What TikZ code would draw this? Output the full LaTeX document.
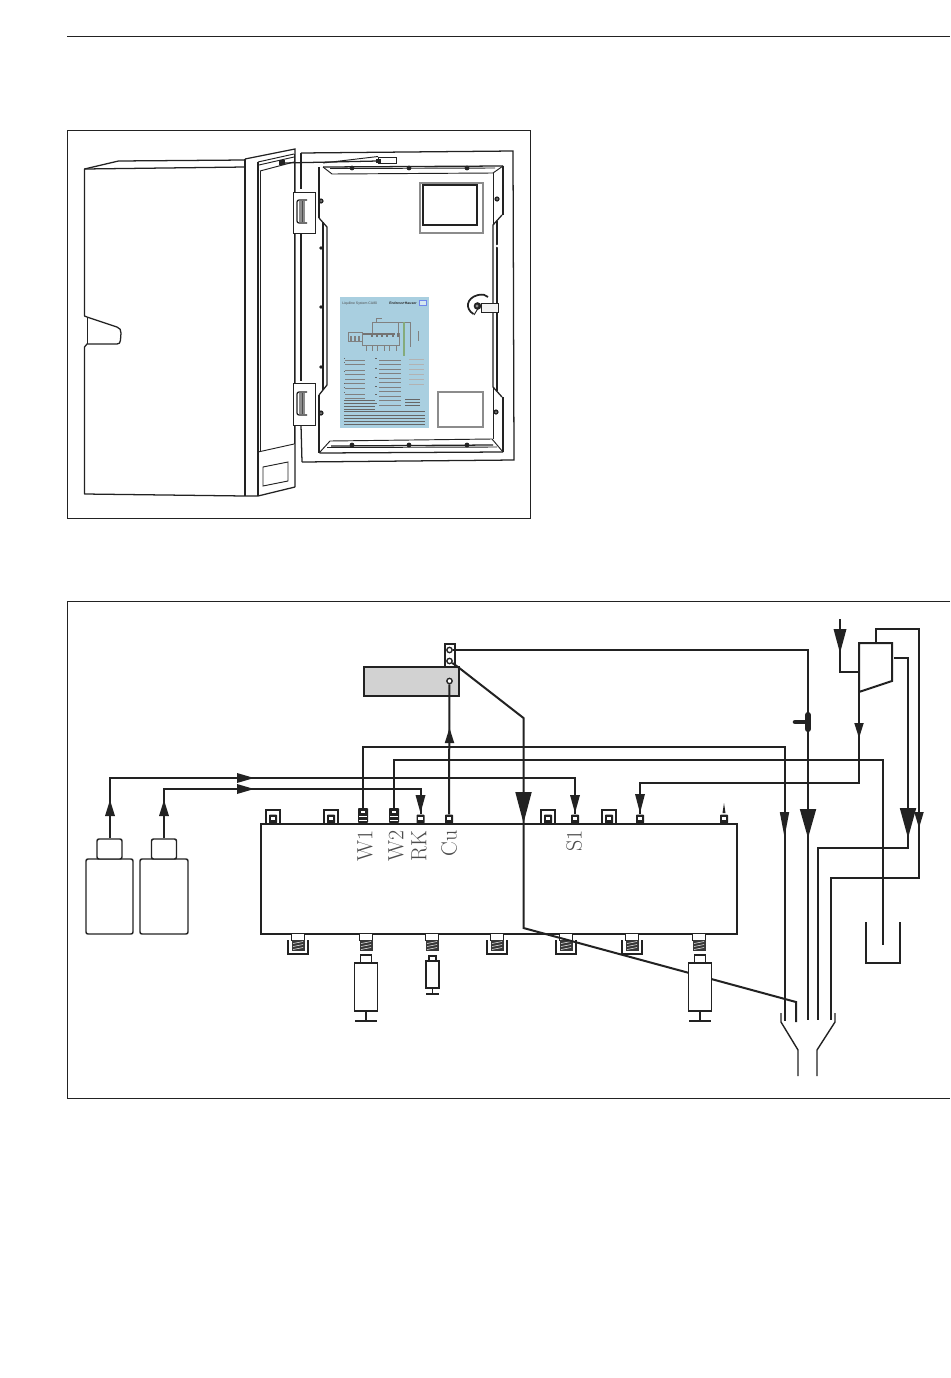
\documentclass[tikz,border=0pt]{standalone}
\usepackage{fontspec}
\setsansfont{Liberation Sans}
\definecolor{ink}{HTML}{222222}
\definecolor{plate}{HTML}{A9CFE0}
\definecolor{panelgrey}{HTML}{D2D2D2}
\tikzset{
  pipe/.style={line width=1.5pt,draw=ink,line join=miter},
  pipet/.style={line width=1.25pt,draw=ink},
  thin1/.style={line width=0.7pt,draw=ink},
  mid1/.style={line width=0.95pt,draw=ink},
  boxn/.style={draw=ink,line width=1.1pt,inner sep=0pt,fill=white,rectangle},
  bottle/.style={boxn,rounded corners=1.5pt},
  portS/.style={fill=ink,rectangle,rounded corners=0.6pt,inner sep=0pt,minimum width=6pt,minimum height=6.5pt},
  portL/.style={fill=ink,rectangle,rounded corners=0.6pt,inner sep=0pt,minimum width=7.5pt,minimum height=11pt},
  lab/.style={rotate=90,anchor=east,inner sep=0pt,text=black!70,font=\fontsize{16.5}{16.5}\selectfont},
  dot/.style={circle,draw=ink,fill=white,line width=1pt,inner sep=0pt,minimum size=4pt},
  txtl/.style={line width=0.45pt,draw=black!50},
}
\newcommand\tridn[4]{\fill[ink] ({#1-#4/2},#2) -- ({#1+#4/2},#2) -- (#1,#3) -- cycle;}
\newcommand\triup[4]{\fill[ink] ({#1-#4/2},#2) -- ({#1+#4/2},#2) -- (#1,#3) -- cycle;}
\newcommand\trirt[4]{\fill[ink] (#2,{#1-#4/2}) -- (#2,{#1+#4/2}) -- (#3,#1) -- cycle;}
\newcommand\botport[2]{%
  \node[boxn,minimum width=9.75pt,minimum height=5pt,line width=0.8pt] (#1a) at (#2,937) {};
  \fill[ink!90] ({#2-6.5},940) rectangle ({#2+6.5},951);
  \foreach \yy in {942.5,945.5,948.5} \draw[white,line width=0.35pt] ({#2-5},{\yy+1}) -- ({#2+5},{\yy-1});
}
\newcommand\botcup[1]{\draw[pipet] ({#1-10},940) -- ({#1-10},954) -- ({#1+10},954) -- ({#1+10},940);}
\newcommand\topsmall[2]{%
  \node[portS] (#1) at (#2,819) {};
  \fill[white] ({#2-2.2},816.5) rectangle ({#2+2.2},819.5);
}
\newcommand\toplarge[2]{%
  \node[portL] (#1) at (#2,815.5) {};
  \fill[white] ({#2-4},815.5) rectangle ({#2+4},817);
  \fill[white] ({#2-4},819.5) rectangle ({#2+4},821);
  \fill[white] ({#2-2},811) rectangle ({#2+2},813);
}
\newcommand\topcap[2]{%
  \topsmall{#1}{#2}
  \draw[pipet] ({#2-7},823) -- ({#2-7},810) -- ({#2+7},810) -- ({#2+7},823);
}
\newcommand\syrbig[2]{%
  \node[boxn,minimum width=8.5pt,minimum height=6pt] (#1n) at (#2,959) {};
  \node[boxn,minimum width=17.25pt,minimum height=36pt] (#1b) at (#2,987) {};
  \coordinate (#1f) at (#2,1021);
  \draw[pipet] (#1b.south) -- (#1f);
  \draw[pipet] ({#2-11},1021) -- ({#2+11},1021);
}
\newcommand\screw[2]{\fill[ink] (#1,#2) circle (2.6); \fill[black!45] (#1,#2) circle (1);}
\begin{document}
\begin{tikzpicture}[x=0.75pt,y=-0.75pt]
\useasboundingbox (0,0) rectangle (950,1378);
\fill[white] (0,0) rectangle (950,1378);
% header rule and frames
\draw[line width=0.7pt,draw=ink] (67,36) -- (950,36);
\draw[line width=0.8pt,draw=ink] (67.5,130.5) rectangle (530.5,518.5);
\draw[line width=0.8pt,draw=ink] (950,601.5) -- (67.5,601.5) -- (67.5,1098.5) -- (950,1098.5);

% ---------- cabinet housing ----------
\draw[mid1,line join=round] (245,160) -- (118.5,161) -- (84.5,169) -- (84.5,316) -- (87,317)
  -- (117,327) .. controls (120,328) and (121,330) .. (121,333) -- (120.5,340)
  .. controls (120.5,343) and (119,344) .. (117,344) -- (87,344) -- (84.5,347) -- (84.5,494) -- (245,496) -- (258,496) -- (295,487);
\draw[mid1] (84.5,169) -- (245,167);
\draw[thin1] (87,317) -- (87,344);
% door edge
\draw[mid1] (245,159) -- (245,496);
\draw[mid1] (245,159) -- (295,149) -- (295,487);
\draw[mid1] (258,162) -- (258,496);
\draw[thin1] (258,162) -- (294,154);
\draw[thin1] (259,165) -- (294,157);
\draw[thin1] (260,171) -- (294,162);
\draw[thin1] (260,171) -- (260,452);
\draw[thin1] (258,452) -- (294,444);
\draw[thin1] (294,154) -- (294,444);
\draw[thin1] (263,467) -- (288,462) -- (288,481) -- (263,486) -- cycle;
% stay arm
\fill[ink] (279,160) rectangle (285,165);
\draw[mid1] (284,163) -- (378,161);
\draw[thin1] (323,163) -- (378,156.5);

% ---------- door interior ----------
\draw[mid1] (301,153) -- (513,151) -- (514,460) -- (302,462);
\draw[mid1] (301,153) -- (301,189);
\draw[mid1] (301,233) -- (301,381);
\draw[mid1] (301,425) -- (302,462);
% inner panel
\draw[mid1] (319,167) -- (319,218);
\draw[mid1] (319,395) -- (319,453);
\draw[mid1] (503,166) -- (503,215);
\draw[mid1] (503,397) -- (503,452);
\draw[mid1] (319,450) -- (320,453) -- (503,452);
\draw[thin1] (493,173) -- (493,225);
\draw[thin1] (493,387) -- (493,439);
\draw[mid1] (323,167) -- (503,166);
\draw[thin1] (323,167) -- (332,174) -- (493,173) -- (503,166);
\draw[thin1] (330,168.5) -- (495,168);
\draw[thin1] (320,452) -- (330,441) -- (492,439) -- (503,452);
\draw[mid1] (331,446) -- (493,445);
\draw[thin1] (327,447.5) -- (497,447);
% strips
\draw[mid1] (319,218) -- (327,227) -- (327,385) -- (319,395);
\draw[line width=1.3pt,draw=ink] (323,222) -- (323,390);
\draw[mid1] (502,215) -- (493,225) -- (493,387) -- (502,397);
\draw[line width=1.3pt,draw=ink] (497,221) -- (497,391);
\foreach \y in {248,307,367} {\fill[ink] (321,\y) circle (1.9);}
\fill[white] (497,246) circle (1.5);
% screws
\foreach \p in {(352,168),(409,168),(467,168),(352,445),(409,445),(467,445)} {\fill[ink] \p circle (2.4);}
\screw{321}{201} \screw{321}{413} \screw{497}{199} \screw{496}{412}
% window and label
\draw[line width=1pt,draw=black!45] (420,183) rectangle (483,233);
\draw[line width=0.8pt,draw=ink] (423,185) rectangle (477,225);
\draw[line width=0.8pt,draw=black!45] (438,392) rectangle (483,427);
% hinges
\foreach \ya/\yb/\yc/\yd in {192/233/200/223,383/425/392/415} {
  \draw[thin1,fill=white] (293,\ya) rectangle (315,\yb);
  \draw[mid1,rounded corners=1.5pt] (307,\yc) -- (297,\yc) -- (297,\yd) -- (307,\yd);
  \fill[black!45] (299,{\yc+1}) rectangle (305,{\yd-1});
  \draw[line width=0.5pt,draw=black!70] (302,{\yc+1}) -- (302,{\yd-1});
}
% latch
\draw[line width=1.3pt,draw=ink] (473.5,314) .. controls (465,309) and (466,298) .. (478,295) .. controls (483,294) and (486,295) .. (488,297);
\draw[thin1] (474,315) -- (477,310) -- (478,309);
\fill[ink] (477.5,306) circle (3.8);
\fill[black!45] (477,306) circle (1.6);
\draw[thin1,fill=black!5] (481,303) rectangle (498,312);
% stay block
\draw[thin1,fill=white] (378,157) rectangle (396,163);
\fill[ink] (376,159) rectangle (381,163);

% ---------- plate ----------
\fill[plate] (340,297) rectangle (429,428);
\node[inner sep=0pt,anchor=west,font=\sffamily\fontsize{2.6}{2.6}\selectfont,text=black!70] (pltitle) at (342,304) {Liquiline System CA80};
\node[inner sep=0pt,anchor=east,font=\sffamily\bfseries\fontsize{2.6}{2.6}\selectfont,text=black!85] (plbrand) at (417,303) {Endress+Hauser};
\fill[white!50!plate] (419,300) rectangle (426,305);
\draw[line width=0.4pt,draw=blue!35!plate] (419,300) rectangle (426,305);
% plate mini-schematic
\draw[txtl] (348,332) rectangle (362,341);
\draw[line width=1pt,draw=black!55] (362,334) -- (395,334);
\draw[txtl] (362,333) -- (362,345) -- (399,345) -- (399,333);
\draw[txtl] (372,333) -- (372,322) -- (410,322) -- (410,347);
\draw[txtl] (376,322) -- (376,318) -- (382,318);
\draw[txtl] (398,333) -- (398,322);
\draw[line width=1.4pt,draw=green!30!yellow!50!black!45!plate] (404,322) -- (404,356);
\draw[txtl] (418,331) -- (418,341);
\foreach \x in {351,355,359} \draw[line width=1pt,draw=black!50] (\x,336) -- (\x,342);
\foreach \x in {372,377,382,387,393,398} \draw[line width=1pt,draw=black!55] (\x,333) -- (\x,337);
\foreach \x in {366,372,377,384,389,396} \draw[txtl] (\x,345) -- (\x,351);
% plate text lines
\foreach \y in {360,364,370,374,379,383,388,394,398} {\draw[txtl] (345,\y) -- (365,\y);}
\foreach \y in {360,364,369,373,378,382,387,391,396,400,405} {\draw[txtl] (379,\y) -- (401,\y);}
\foreach \y in {359,364,369,374,379,384} {\draw[txtl,draw=black!30] (409,\y) -- (424,\y);}
\foreach \y in {358,362,371,383,387,392} {\fill[black!60] (344,\y) rectangle (345,{\y+1});}
\foreach \y in {358,368,377,386,394,403} {\fill[black!60] (375,\y) rectangle (376.5,{\y+1.2});}
\foreach \y in {400,403,406,409} {\draw[line width=0.5pt,draw=black!60] (344,\y) -- (375,\y);}
\foreach \y in {399,402,405} {\draw[line width=0.5pt,draw=black!60] (405,\y) -- (420,\y);}
\foreach \y in {411,415,418,421,424} {\draw[line width=0.5pt,draw=black!60] (344,\y) -- (425,\y);}

% ---------- main block ----------
\node[boxn,line width=1.4pt,minimum width=357pt,minimum height=82.5pt] (block) at (499,879) {};
\foreach \n/\x in {p1/298,p2/366,p3/432,p4/497,p5/566,p6/632,p7/699} {\botport{\n}{\x}}
\foreach \x in {298,497,566,632} {\botcup{\x}}
% top ports
\topcap{c1}{273} \topcap{c2}{331} \topcap{c3}{548} \topcap{c4}{609}
\toplarge{w1}{363} \toplarge{w2}{394}
\topsmall{rk}{420.5} \topsmall{cu}{449} \topsmall{s1}{575} \topsmall{s2}{640} \topsmall{s3}{724}
\fill[ink] (722.5,813) -- (725.5,813) -- (724,803) -- cycle;
% block labels
\node[lab] (lw1) at (365,830) {W1};
\node[lab] (lw2) at (396,830) {W2};
\node[lab] (lrk) at (419,830) {RK};
\node[lab] (lcu) at (449,830) {Cu};
\node[lab] (ls1) at (574,830) {S1};

% ---------- bottles ----------
\node[bottle,minimum width=35.25pt,minimum height=56.25pt] (b1) at (109.5,896.5) {};
\node[bottle,minimum width=18.75pt,minimum height=15pt] (b1c) at (109.5,849) {};
\node[bottle,minimum width=36pt,minimum height=56.25pt] (b2) at (164,896.5) {};
\node[bottle,minimum width=18.75pt,minimum height=15pt] (b2c) at (164,849) {};

% ---------- upper units ----------
\node[boxn,fill=panelgrey,minimum width=71.25pt,minimum height=21.75pt] (grey) at (411.5,681.5) {};
\node[boxn,minimum width=7.5pt,minimum height=17.25pt] (term) at (450,655.5) {};
\node[dot] (d1) at (449.5,650) {};
\node[dot] (d2) at (449.5,661) {};
\node[dot] (d3) at (449.5,681) {};

% bends
\coordinate (bTop) at (110,778);
\coordinate (bLow) at (164,789);
\coordinate (wA) at (363,747);
\coordinate (wB) at (784.5,747);
\coordinate (wC) at (784.5,1021);
\coordinate (vA) at (394,760);
\coordinate (vB) at (883,760);
\coordinate (vC) at (883,945);
\coordinate (dA) at (523.5,718);
\coordinate (dB) at (523.5,928);
\coordinate (dC) at (796,1002);
\coordinate (dD) at (796,1022);
\coordinate (eA) at (808,650);
\coordinate (eB) at (808,1020);
\coordinate (fA) at (640,783);
\coordinate (fB) at (859,783);
\coordinate (fC) at (859,692);
\coordinate (top1) at (859,643);
\coordinate (top2) at (892,643);
\coordinate (top3) at (892,681);
\coordinate (inA) at (840,619);
\coordinate (inB) at (840,672);
\coordinate (inC) at (859,672);
\coordinate (lpA) at (876,643);
\coordinate (lpB) at (876,629);
\coordinate (lpC) at (919,629);
\coordinate (lpD) at (919,878);
\coordinate (lpE) at (831,878);
\coordinate (lpF) at (831,1020);
\coordinate (gA) at (894,658);
\coordinate (gB) at (908,658);
\coordinate (gC) at (908,848);
\coordinate (gD) at (818,848);
\coordinate (gE) at (818,1020);
\coordinate (dA0) at (458,667);

% ---------- connectors ----------
\draw[pipe] (b1c.north -| bTop) -- (bTop) -- (bTop -| s1) -- (s1.north);
\draw[pipe] (b2c.north) -- (bLow -| b2c) -- (bLow -| rk) -- (rk.north);
\draw[pipe] (w1.north) -- (wA) -- (wB) -- (wC);
\draw[pipe] (w2.north) -- (vA) -- (vB) -- (vC);
\draw[pipe] (cu.north) -- (d3);
\draw[pipe] (d1) -- (eA) -- (eB);
\draw[pipe] (d2) -- (dA0) -- (dA) -- (dB) -- (dC) -- (dD);
\draw[pipe] (s2.north) -- (fA) -- (fB) -- (fC);
\draw[pipe,line join=miter] (fC) -- (top1) -- (top2) -- (top3) -- cycle;
\draw[pipe] (inA) -- (inB) -- (inC);
\draw[pipe] (lpA) -- (lpB) -- (lpC) -- (lpD) -- (lpE) -- (lpF);
\draw[pipe] (gA) -- (gB) -- (gC) -- (gD) -- (gE);

% syringes over the diagonal pipe
\syrbig{sa}{366}
\syrbig{sc}{700}
\node[boxn,minimum width=5pt,minimum height=3.75pt] (sbn) at (432.5,958.5) {};
\node[boxn,minimum width=9.75pt,minimum height=20.25pt] (sbb) at (432.5,974.5) {};
\coordinate (sbf) at (432.5,994);
\draw[pipet] (sbb.south) -- (sbf);
\draw[pipet] (426,994) -- (439,994);

% blob (tee) on the sample line
\draw[line width=4.6pt,line cap=round,draw=ink] (808,715) -- (808,729);
\draw[line width=3.4pt,line cap=round,draw=ink] (795,722) -- (808,722);

% arrowheads
\triup{110}{816}{800}{10}
\triup{164}{816}{800}{10}
\trirt{778}{237}{254}{10}
\trirt{789}{237}{254}{10}
\tridn{420.5}{795}{813}{10}
\tridn{575}{795}{813}{10}
\tridn{640}{794}{813}{10}
\triup{449.5}{743}{728}{9.5}
\tridn{523.5}{792}{823}{16.5}
\tridn{808}{809}{838}{16.5}
\tridn{784.5}{812}{837}{9.5}
\tridn{859}{723}{738}{9.5}
\tridn{840}{629}{653}{13}
\tridn{919}{812}{828}{9.5}
\tridn{908}{808}{838}{16.5}

% beaker and funnel
\draw[pipet] (866,922) -- (866,963) -- (900,963) -- (900,922);
\draw[pipet,line width=1.05pt] (781,1013) -- (781,1022) -- (798,1050) -- (798,1076);
\draw[pipet,line width=1.05pt] (835,1013) -- (835,1022) -- (817,1050) -- (817,1076);
\end{tikzpicture}
\end{document}
